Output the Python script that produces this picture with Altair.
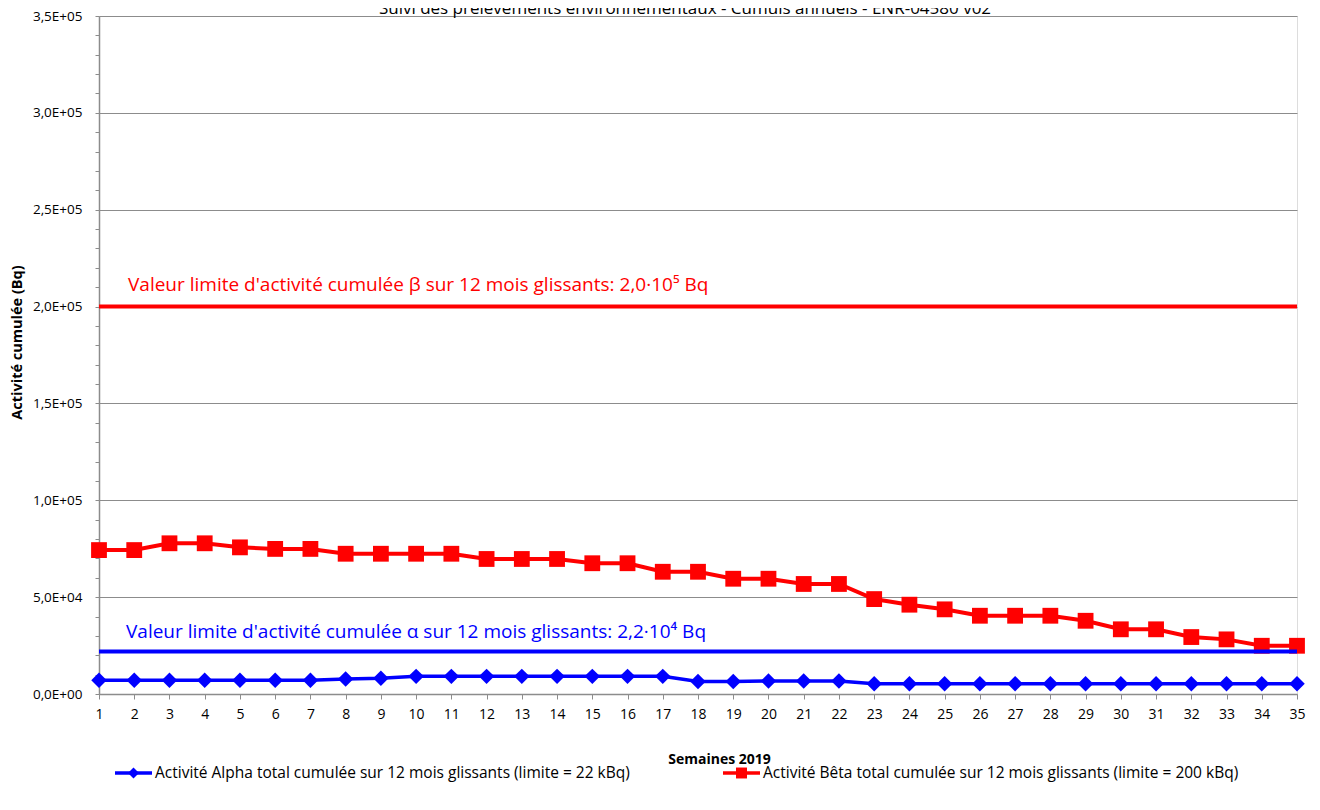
import altair as alt
import pandas as pd

weeks = list(range(1, 36))
alpha_values = [7100, 7100, 7100, 7100, 7100, 7100, 7100, 7700, 8100, 9100,
                9100, 9100, 9100, 9100, 9100, 9100, 9100, 6400, 6400, 6700,
                6700, 6700, 5300, 5300, 5300, 5300, 5300, 5300, 5300, 5300,
                5300, 5300, 5300, 5300, 5300]
beta_values = [74300, 74300, 77800, 77800, 75700, 74900, 74900, 72400, 72400, 72400,
               72400, 69700, 69700, 69700, 67500, 67500, 63100, 63100, 59500, 59500,
               56800, 56800, 49000, 46100, 43700, 40400, 40400, 40400, 37800, 33400,
               33400, 29400, 28200, 24900, 24900]
alpha_limit = 22000
beta_limit = 200000
y_ticks = list(range(0, 350001, 10000))

title_text = "Suivi des prélèvements environnementaux - Cumuls annuels - ENR-04580 v02"
alpha_note = "Valeur limite d'activité cumulée α sur 12 mois glissants: 2,2·10⁴ Bq"
beta_note = "Valeur limite d'activité cumulée β sur 12 mois glissants: 2,0·10⁵ Bq"
legend_alpha = "Activité Alpha total cumulée sur 12 mois glissants (limite = 22 kBq)"
legend_beta = "Activité Bêta total cumulée sur 12 mois glissants (limite = 200 kBq)"

RED = "#FF0000"
BLUE = "#0000FF"
GRAY = "#8c8c8c"
FONT = "Open Sans"

df = pd.DataFrame({"week": weeks, "alpha": alpha_values, "beta": beta_values})
limits = pd.DataFrame({
    "start": [weeks[0], weeks[0]],
    "end": [weeks[-1], weeks[-1]],
    "v": [alpha_limit, beta_limit],
    "note": [alpha_note, beta_note],
    "kind": ["alpha", "beta"],
})
one = pd.DataFrame({"a": [0]})

xscale = alt.Scale(domain=[weeks[0], weeks[-1]], nice=False, zero=False)
yscale = alt.Scale(domain=[0, 350000], nice=False)

label_expr = ("datum.value % 50000 != 0 ? '' : (datum.value == 0 ? '0,0E+00' : "
              "(datum.value < 100000 ? replace(format(datum.value/10000, '.1f'), '.', ',') + 'E+04' : "
              "replace(format(datum.value/100000, '.1f'), '.', ',') + 'E+05'))")

x_axis = alt.Axis(values=weeks, tickCount=60, format="d", grid=False, tickSize=5, tickColor=GRAY,
                  domainColor=GRAY, domainWidth=1.5, labelFont=FONT, labelFontSize=14,
                  labelOverlap=False, labelFlush=False,
                  labelColor="#000", labelPadding=8, title="Semaines 2019",
                  titleFont=FONT, titleFontSize=14, titleFontWeight="bold", titleColor="#000",
                  titleX=620, titleY=69, titleBaseline="alphabetic", titleAlign="center")
y_axis = alt.Axis(values=y_ticks, tickCount=60, labelExpr=label_expr, labelOverlap=False,
                  labelFlush=False,
                  grid=True, gridColor={"condition": {"test": "datum.value % 50000 == 0", "value": GRAY}, "value": "transparent"},
                  tickSize=4, tickColor=GRAY, domainColor=GRAY, domainWidth=1.5,
                  labelFont=FONT, labelFontSize=13.5, labelColor="#000", labelPadding=13,
                  title="Activité cumulée (Bq)", titleFont=FONT, titleFontSize=14.5,
                  titleFontWeight="bold", titleColor="#000", titleX=-78, titleY=326,
                  titleAngle=-90, titleBaseline="alphabetic", titleAlign="center")

beta_line = alt.Chart(df).mark_line(color=RED, strokeWidth=4).encode(
    x=alt.X("week:Q", scale=xscale, axis=x_axis),
    y=alt.Y("beta:Q", scale=yscale, axis=y_axis),
)
beta_pts = alt.Chart(df).mark_point(shape="square", filled=True, color=RED, size=250, opacity=1).encode(
    x=alt.X("week:Q", scale=xscale), y=alt.Y("beta:Q", scale=yscale))
alpha_line = alt.Chart(df).mark_line(color=BLUE, strokeWidth=3.5).encode(
    x=alt.X("week:Q", scale=xscale), y=alt.Y("alpha:Q", scale=yscale))
alpha_pts = alt.Chart(df).mark_point(shape="diamond", filled=True, color=BLUE, size=240, opacity=1).encode(
    x=alt.X("week:Q", scale=xscale), y=alt.Y("alpha:Q", scale=yscale))

limit_rules = alt.Chart(limits).mark_rule(strokeWidth=4).encode(
    x=alt.X("start:Q", scale=xscale), x2="end:Q", y=alt.Y("v:Q", scale=yscale),
    color=alt.Color("kind:N", scale=alt.Scale(domain=["alpha", "beta"], range=[BLUE, RED]), legend=None),
)
beta_text = alt.Chart(limits[limits.kind == "beta"]).mark_text(
    align="left", baseline="alphabetic", dx=29, dy=-16, font=FONT, fontSize=19, color=RED
).encode(x=alt.X("start:Q", scale=xscale), y=alt.Y("v:Q", scale=yscale), text="note:N")
alpha_text = alt.Chart(limits[limits.kind == "alpha"]).mark_text(
    align="left", baseline="alphabetic", dx=27, dy=-13, font=FONT, fontSize=19, color=BLUE
).encode(x=alt.X("start:Q", scale=xscale), y=alt.Y("v:Q", scale=yscale), text="note:N")

title = alt.Chart(one).mark_text(align="center", baseline="alphabetic", font=FONT, fontSize=17, color="#000").encode(
    x=alt.value(586), y=alt.value(-2), text=alt.value(title_text))

LY = 757
leg = []
for x0, x1, shape, col, xt, txt in [(16, 53, "diamond", BLUE, 56, legend_alpha),
                                    (624, 661, "square", RED, 664, legend_beta)]:
    leg.append(alt.Chart(one).mark_rule(color=col, strokeWidth=3.5).encode(
        x=alt.value(x0), x2=alt.value(x1), y=alt.value(LY)))
    leg.append(alt.Chart(one).mark_point(shape=shape, filled=True, color=col, size=120, opacity=1).encode(
        x=alt.value((x0 + x1) / 2), y=alt.value(LY)))
    leg.append(alt.Chart(one).mark_text(align="left", baseline="middle", font=FONT, fontSize=15.5, color="#000").encode(
        x=alt.value(xt), y=alt.value(LY), text=alt.value(txt)))

chart = alt.layer(beta_line, beta_pts, alpha_line, alpha_pts, limit_rules, beta_text, alpha_text, title, *leg).properties(
    width=1198, height=678,
    autosize=alt.AutoSizeParams(type="none"),
    padding={"left": 91, "top": 8, "right": 10, "bottom": 100},
).configure_view(stroke=None).configure(background="white")

chart.save("out.html", embed_options={"renderer": "svg", "actions": False})
